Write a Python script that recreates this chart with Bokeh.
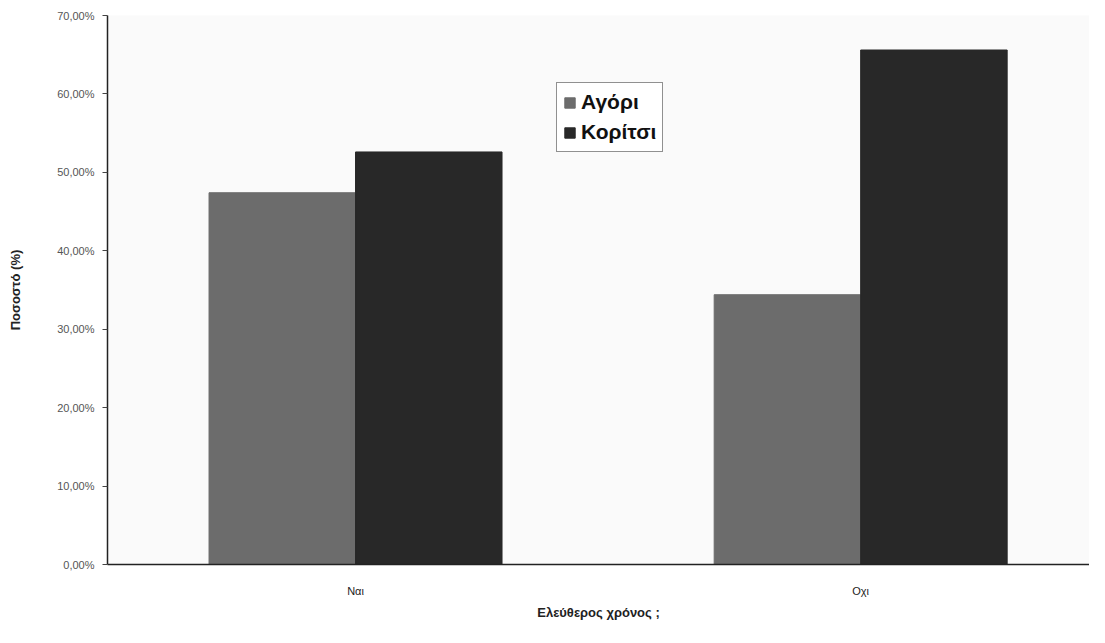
from bokeh.plotting import figure
from bokeh.models import ColumnDataSource, FixedTicker, Range1d, Legend, LegendItem
from bokeh.embed import file_html
from bokeh.resources import INLINE

categories = ["Ναι", "Οχι"]
series = ["Αγόρι", "Κορίτσι"]
agori = [47.4, 34.4]
koritsi = [52.6, 65.6]
y_ticks = [0, 10, 20, 30, 40, 50, 60, 70]
y_tick_labels = ["0,00%", "10,00%", "20,00%", "30,00%", "40,00%", "50,00%", "60,00%", "70,00%"]

colors = ["#6c6c6c", "#282828"]
cat_x = list(range(len(categories)))
dodge = 0.145
bar_w = 0.29

p = figure(width=1089, height=627, output_backend="svg", toolbar_location=None,
           x_range=Range1d(-0.491, 1.453), y_range=Range1d(0, 70))
p.min_border_left = 107
p.min_border_top = 15
p.min_border_bottom = 63
p.min_border_right = 0
p.outline_line_color = None
p.background_fill_color = "#fafafa"
p.border_fill_color = "white"
p.grid.visible = False

src_a = ColumnDataSource(dict(x=[c - dodge for c in cat_x], top=agori))
src_k = ColumnDataSource(dict(x=[c + dodge for c in cat_x], top=koritsi))
ra = p.vbar(x="x", top="top", width=bar_w, source=src_a, fill_color=colors[0], line_color=colors[0])
rk = p.vbar(x="x", top="top", width=bar_w, source=src_k, fill_color=colors[1], line_color=colors[1])

p.yaxis.ticker = FixedTicker(ticks=y_ticks)
p.yaxis.major_label_overrides = {t: l for t, l in zip(y_ticks, y_tick_labels)}
p.xaxis.ticker = FixedTicker(ticks=cat_x)
p.xaxis.major_label_overrides = {c: n for c, n in zip(cat_x, categories)}

for ax in (p.xaxis, p.yaxis):
    ax.axis_line_color = "#222222"
    ax.axis_line_width = 1.5
    ax.major_label_text_font = "Liberation Sans"
    ax.major_label_text_font_size = "11px"
    ax.major_label_text_color = "#555555"
    ax.axis_label_text_font = "Liberation Sans"
    ax.axis_label_text_font_style = "bold"
    ax.axis_label_text_font_size = "13px"
    ax.axis_label_text_color = "#222222"
    ax.minor_tick_line_color = None

p.yaxis.major_tick_out = 5
p.yaxis.major_tick_in = 0
p.yaxis.major_tick_line_color = "#444444"
p.yaxis.major_label_standoff = 8
p.yaxis.axis_label = "Ποσοστό (%)"
p.yaxis.axis_label_standoff = 31

p.xaxis.major_tick_line_color = None
p.xaxis.major_tick_out = 0
p.xaxis.major_tick_in = 0
p.xaxis.major_label_standoff = 20
p.xaxis.major_label_text_color = "#222222"
p.xaxis.axis_label = "Ελεύθερος χρόνος ;"
p.xaxis.axis_label_standoff = 5

legend = Legend(items=[LegendItem(label=series[0], renderers=[ra]),
                       LegendItem(label=series[1], renderers=[rk])],
                location=(449, 412))
legend.label_text_font = "Liberation Sans"
legend.label_text_font_size = "21px"
legend.label_text_font_style = "bold"
legend.label_text_color = "#111111"
legend.label_height = 26
legend.glyph_width = 13
legend.glyph_height = 13
legend.spacing = 4
legend.padding = 6
legend.margin = 0
legend.border_line_color = "#222222"
legend.border_line_width = 1.5
legend.background_fill_color = "white"
legend.label_standoff = 5
p.add_layout(legend, "center")

open("out.html", "w").write(file_html(p, INLINE))
